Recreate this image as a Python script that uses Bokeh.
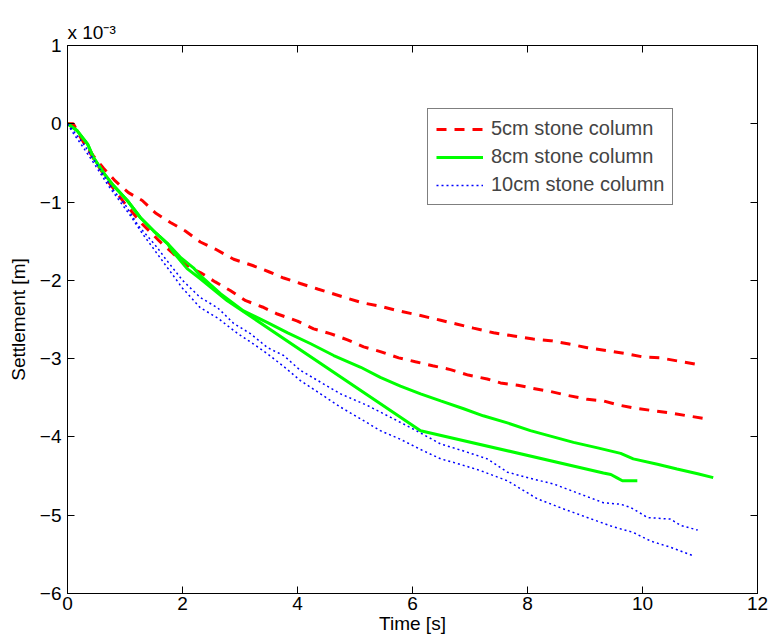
from bokeh.plotting import figure
from bokeh.models import (Range1d, LinearAxis, FixedTicker, Legend, LegendItem, Title)
from bokeh.embed import file_html
from bokeh.resources import INLINE

# Settlement values are in units of 1e-3 m (axis shows "x 10^-3")
red_a_t = [0, .1, .28, .45, .63, .83, 1.06, 1.3, 1.53, 1.79, 2.05, 2.31, 2.57, 2.89, 3.22, 3.5, 3.76,
           4.05, 4.35, 4.57, 4.87, 5.15, 5.44, 5.76, 6.14, 6.49, 6.78, 7.06, 7.41, 7.76, 8.1, 8.4, 8.7,
           9.04, 9.39, 9.74, 10.02, 10.31, 10.61, 10.92]
red_a_s = [0, 0, -.22, -.41, -.57, -.73, -.88, -.98, -1.14, -1.26, -1.37, -1.51, -1.6, -1.73, -1.81, -1.89,
           -1.97, -2.04, -2.11, -2.16, -2.23, -2.29, -2.33, -2.39, -2.45, -2.51, -2.56, -2.61, -2.67, -2.71,
           -2.75, -2.77, -2.81, -2.86, -2.9, -2.94, -2.98, -2.99, -3.03, -3.07]

red_b_t = [0, .1, .3, .5, .75, 1.0, 1.3, 1.6, 1.84, 2.14, 2.31, 2.57, 2.83, 3.1, 3.39, 3.65, 4.0, 4.28,
           4.57, 4.87, 5.15, 5.44, 5.76, 6.05, 6.35, 6.66, 6.97, 7.3, 7.53, 7.83, 8.1, 8.4, 8.7, 9.04, 9.32,
           9.57, 9.84, 10.14, 10.45, 10.78, 11.13]
red_b_s = [0, -.02, -.26, -.5, -.78, -1.02, -1.28, -1.5, -1.66, -1.84, -1.9, -2.02, -2.13, -2.26, -2.34,
           -2.43, -2.52, -2.62, -2.68, -2.76, -2.85, -2.91, -2.99, -3.04, -3.09, -3.14, -3.21, -3.26, -3.31,
           -3.34, -3.38, -3.42, -3.47, -3.52, -3.54, -3.59, -3.63, -3.66, -3.69, -3.73, -3.77]

green_a_t = [0, .17, .35, .45, .63, .8, 1.04, 1.27, 1.5, 1.74, 1.97, 2.19, 2.31, 2.66, 3.06, 3.48, 3.83,
             4.23, 4.63, 5.1, 5.44, 5.79, 6.14, 6.49, 6.89, 7.23, 7.65, 8.05, 8.4, 8.8, 9.22, 9.62, 9.84,
             10.26, 10.6, 10.96, 11.23]
green_a_s = [0, -.09, -.26, -.43, -.63, -.79, -.98, -1.2, -1.37, -1.53, -1.71, -1.84, -1.94, -2.17, -2.39,
             -2.54, -2.67, -2.81, -2.96, -3.11, -3.24, -3.35, -3.45, -3.54, -3.64, -3.73, -3.82, -3.92, -3.99,
             -4.07, -4.14, -4.21, -4.28, -4.35, -4.41, -4.47, -4.52]

green_b_t = [0, .17, .35, .45, .63, .8, 1.04, 1.27, 1.5, 1.74, 1.84, 2.08, 2.31, 2.78, 6.14, 9.32, 9.45,
             9.55, 9.65, 9.91]
green_b_s = [0, -.09, -.26, -.43, -.63, -.79, -.98, -1.2, -1.37, -1.53, -1.64, -1.85, -1.98, -2.26, -3.92,
             -4.46, -4.48, -4.52, -4.56, -4.56]

blue_a_t = [0, .1, .28, .45, .63, .8, 1.0, 1.23, 1.56, 1.7, 2.0, 2.31, 2.61, 2.89, 3.18, 3.48, 3.76, 4.05,
            4.4, 4.75, 5.22, 5.62, 5.91, 6.14, 6.49, 6.89, 7.3, 7.65, 8.05, 8.45, 8.92, 9.32, 9.62, 9.79,
            10.09, 10.49, 10.66, 10.96]
blue_a_s = [0, -.09, -.26, -.45, -.66, -.85, -1.03, -1.3, -1.58, -1.72, -2.0, -2.22, -2.35, -2.55, -2.68,
            -2.86, -2.96, -3.15, -3.3, -3.45, -3.6, -3.75, -3.86, -3.95, -4.09, -4.18, -4.28, -4.45, -4.53,
            -4.6, -4.73, -4.84, -4.86, -4.9, -5.03, -5.05, -5.13, -5.19]

blue_b_t = [0, .1, .3, .5, .7, .9, 1.1, 1.3, 1.5, 1.7, 2.0, 2.31, 2.61, 2.96, 3.23, 3.48, 3.76, 4.05, 4.4,
            4.75, 5.1, 5.44, 5.79, 6.14, 6.49, 6.83, 7.18, 7.65, 8.17, 8.63, 9.04, 9.5, 9.84, 10.14, 10.49,
            10.89]
blue_b_s = [0, -.12, -.33, -.55, -.78, -.98, -1.18, -1.4, -1.6, -1.8, -2.1, -2.35, -2.48, -2.68, -2.81,
            -2.94, -3.1, -3.28, -3.45, -3.62, -3.77, -3.92, -4.03, -4.16, -4.28, -4.35, -4.43, -4.56, -4.79,
            -4.92, -5.03, -5.15, -5.22, -5.33, -5.41, -5.52]

legend_labels = ["5cm stone column", "8cm stone column", "10cm stone column"]
x_ticks = [0, 2, 4, 6, 8, 10, 12]
y_ticks = [-6, -5, -4, -3, -2, -1, 0, 1]
scale_text = "x 10\u207b\u00b3"

FONT = "Liberation Sans"
FS = "19px"

p = figure(width=768, height=640, output_backend="svg", toolbar_location=None,
           x_range=Range1d(0, 12), y_range=Range1d(-6, 1),
           min_border_left=67, min_border_right=11, min_border_top=45, min_border_bottom=47,
           background_fill_color="white", border_fill_color="white")
p.grid.visible = False
p.outline_line_color = "black"
p.outline_line_width = 1

def style_axis(ax, show_labels=True):
    ax.major_tick_in = 7
    ax.major_tick_out = 0
    ax.minor_tick_line_color = None
    ax.axis_line_color = "black"
    ax.major_tick_line_color = "black"
    ax.major_label_text_font = FONT
    ax.major_label_text_font_size = FS if show_labels else "1px"
    ax.major_label_text_color = "black"
    ax.axis_label_text_font = FONT
    ax.axis_label_text_font_size = FS
    ax.axis_label_text_font_style = "normal"
    ax.axis_label_text_color = "black"

p.xaxis.ticker = FixedTicker(ticks=x_ticks)
p.yaxis.ticker = FixedTicker(ticks=y_ticks)
p.yaxis.major_label_overrides = {t: (str(t).replace("-", "\u2212")) for t in y_ticks}
style_axis(p.xaxis[0])
style_axis(p.yaxis[0])
p.xaxis.major_label_standoff = 3
p.xaxis.axis_label = "Time [s]"
p.xaxis.axis_label_standoff = 0
p.yaxis.major_label_standoff = 6
p.yaxis.axis_label = "Settlement [m]"
p.yaxis.axis_label_standoff = 8

top_ax = LinearAxis(ticker=FixedTicker(ticks=x_ticks), major_label_overrides={t: "" for t in x_ticks})
right_ax = LinearAxis(ticker=FixedTicker(ticks=y_ticks), major_label_overrides={t: "" for t in y_ticks})
for ax in (top_ax, right_ax):
    style_axis(ax, show_labels=False)
    ax.major_label_standoff = 0
p.add_layout(top_ax, "above")
p.add_layout(right_ax, "right")
p.add_layout(Title(text=scale_text, align="left", text_font=FONT, text_font_size=FS,
                   text_font_style="normal", text_color="black", standoff=5, offset=0), "above")

r_red_a = p.line(red_a_t, red_a_s, line_color="#FF0000", line_width=3, line_dash="10 8")
r_red_b = p.line(red_b_t, red_b_s, line_color="#FF0000", line_width=3, line_dash="10 8")
r_grn_a = p.line(green_a_t, green_a_s, line_color="#00FF00", line_width=3)
r_grn_b = p.line(green_b_t, green_b_s, line_color="#00FF00", line_width=3)
r_blu_a = p.line(blue_a_t, blue_a_s, line_color="#0000FF", line_width=1.5, line_dash="2 3")
r_blu_b = p.line(blue_b_t, blue_b_s, line_color="#0000FF", line_width=1.5, line_dash="2 3")

legend = Legend(items=[LegendItem(label=legend_labels[0], renderers=[r_red_a]),
                       LegendItem(label=legend_labels[1], renderers=[r_grn_a]),
                       LegendItem(label=legend_labels[2], renderers=[r_blu_a])],
                location=(360, 388), orientation="vertical")
legend.border_line_color = "black"
legend.border_line_width = 1
legend.background_fill_color = "white"
legend.background_fill_alpha = 1
legend.label_text_font = FONT
legend.label_text_font_size = "20px"
legend.glyph_width = 47
legend.glyph_height = 22
legend.label_height = 22
legend.label_standoff = 8
legend.spacing = 5
legend.padding = 8
legend.margin = 0
p.add_layout(legend, "center")

open("out.html", "w").write(file_html(p, INLINE))
